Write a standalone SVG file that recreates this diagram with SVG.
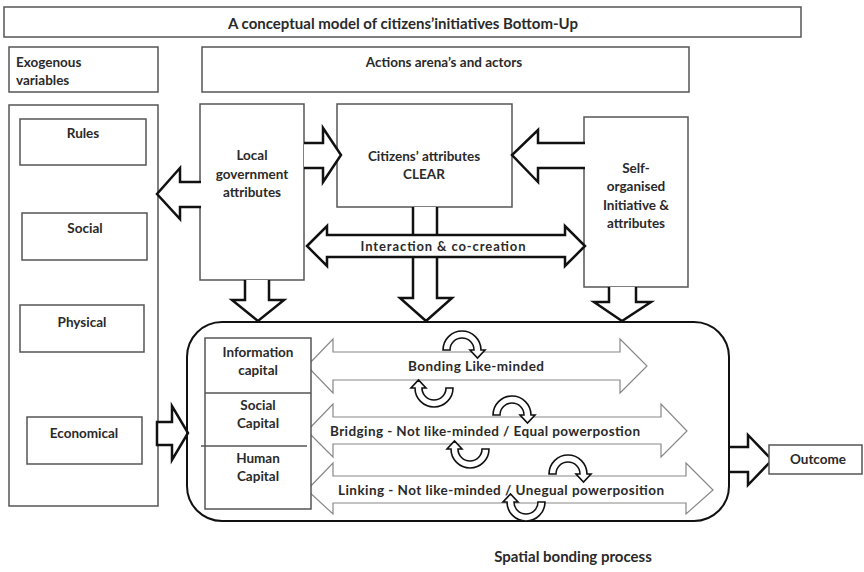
<svg xmlns="http://www.w3.org/2000/svg" xmlns:xlink="http://www.w3.org/1999/xlink" width="864" height="572" viewBox="0 0 864 572">
<defs>
<style>
.box{fill:#fff;stroke:#555;stroke-width:1.5}
.t{font-family:Lato,"Open Sans","Liberation Sans",sans-serif;font-weight:bold;fill:#2a2a2a;font-size:13.5px}
.c{text-anchor:middle}
.big{fill:#fff;stroke:#111;stroke-width:2.5;stroke-linejoin:miter}
.wide{fill:#fff;stroke:#888;stroke-width:1.2}
.ut{fill:#fff;stroke:#111;stroke-width:1.6;stroke-linejoin:miter}
</style>
<path id="uturn" d="M -19 0 A 19 19 0 0 1 19 0 L 23 0 L 15.5 8 L 8 0 L 12 0 A 12 12 0 0 0 -12 0 Z"/>
</defs>
<rect width="864" height="572" fill="#fff"/>

<g id="title">
<rect class="box" x="4" y="7" width="797" height="30"/>
<text class="t c" x="403" y="29" style="font-size:15px">A conceptual model of citizens’initiatives  Bottom-Up</text>
</g>
<g id="exogenous-header">
<rect class="box" x="9" y="47" width="149" height="45"/>
<text class="t" x="16" y="67">Exogenous</text>
<text class="t" x="16" y="85">variables</text>
</g>
<g id="actions-header">
<rect class="box" x="202" y="47" width="487" height="45"/>
<text class="t c" x="444" y="67">Actions arena’s and actors</text>
</g>

<g id="exogenous-variables">
<rect class="box" x="9" y="105" width="149" height="401"/>
</g>
<g id="rules"><rect class="box" x="20" y="119" width="126" height="46"/><text class="t c" x="83" y="138">Rules</text></g>
<g id="social"><rect class="box" x="22" y="213" width="125" height="47"/><text class="t c" x="85" y="233">Social</text></g>
<g id="physical"><rect class="box" x="20" y="305" width="124" height="47"/><text class="t c" x="82" y="327">Physical</text></g>
<g id="economical"><rect class="box" x="27" y="417" width="115" height="47"/><text class="t c" x="84" y="438">Economical</text></g>

<g id="local-government">
<rect class="box" x="200" y="104" width="104" height="176"/>
<text class="t c" x="252" y="160">Local</text>
<text class="t c" x="252" y="179">government</text>
<text class="t c" x="252" y="197">attributes</text>
</g>
<g id="citizens">
<rect class="box" x="337" y="104" width="175" height="103"/>
<text class="t c" x="424" y="161">Citizens’ attributes</text>
<text class="t c" x="424" y="179">CLEAR</text>
</g>
<g id="self-organised">
<rect class="box" x="584" y="117" width="104" height="170"/>
<text class="t c" x="636" y="173">Self-</text>
<text class="t c" x="636" y="191">organised</text>
<text class="t c" x="636" y="210">Initiative &amp;</text>
<text class="t c" x="636" y="228">attributes</text>
</g>

<g id="connectors">
<path class="big" d="M201 182 L180 182 L180 168 L157 194 L180 219 L180 207 L201 207"/>
<path class="big" d="M304 143 L323 143 L323 128 L341 155 L323 182 L323 168 L304 168"/>
<path class="big" d="M585 143 L538 143 L538 130 L512 155 L538 182 L538 168 L585 168"/>
<path class="big" d="M413 207 L413 298 L400 298 L426 321 L452 298 L437 298 L437 207"/>
<path class="big" d="M307 246 L327 226 L327 235 L565 235 L565 226 L585 246 L565 266 L565 257 L327 257 L327 266 Z"/>
<path class="big" d="M245 280 L245 300 L232 300 L258 321 L284 300 L269 300 L269 280"/>
<path class="big" d="M609 287 L609 302 L594 302 L622 321 L651 302 L636 302 L636 287"/>
<path class="big" d="M157 422 L172 422 L172 406 L188 433 L172 460 L172 445 L157 445 Z"/>
<path class="big" d="M729 447 L748 447 L748 435 L772 460 L748 485 L748 472 L729 472"/>
</g>
<text class="t c" x="443" y="251" style="font-size:13px" textLength="165">Interaction &amp;  co-creation</text>

<g id="spatial-bonding">
<rect x="187" y="322" width="542" height="199" rx="35" ry="35" fill="none" stroke="#111" stroke-width="2"/>
<g id="flows">
<path class="wide" d="M307 366 L333 339 L333 352 L620 352 L620 339 L647 366 L620 393 L620 380 L333 380 L333 393 Z"/>
<path class="wide" d="M307 431 L333 404 L333 417 L661 417 L661 404 L687 431 L661 457 L661 444 L333 444 L333 457 Z"/>
<path class="wide" d="M307 490 L333 463 L333 476 L686 476 L686 463 L713 490 L686 514 L686 503 L333 503 L333 514 Z"/>
</g>
<text class="t c" x="476" y="371" textLength="136">Bonding Like-minded</text>
<text class="t c" x="485" y="436" textLength="310">Bridging - Not like-minded / Equal powerpostion</text>
<text class="t c" x="501" y="495" textLength="326">Linking - Not like-minded / Unegual powerposition</text>
<g id="uturns">
<use href="#uturn" class="ut" transform="translate(462 350)"/>
<use href="#uturn" class="ut" transform="translate(434 388) rotate(180)"/>
<use href="#uturn" class="ut" transform="translate(512 415)"/>
<use href="#uturn" class="ut" transform="translate(470 449) rotate(180)"/>
<use href="#uturn" class="ut" transform="translate(568 474)"/>
<use href="#uturn" class="ut" transform="translate(526 502) rotate(180)"/>
</g>
<g id="capitals">
<rect class="box" x="205" y="338" width="106" height="171"/>
<line x1="205" y1="393" x2="311" y2="393" stroke="#555" stroke-width="1.5"/>
<line x1="201" y1="446" x2="307" y2="446" stroke="#555" stroke-width="1.5"/>
<text class="t c" x="258" y="357">Information</text>
<text class="t c" x="258" y="375">capital</text>
<text class="t c" x="258" y="410">Social</text>
<text class="t c" x="258" y="428">Capital</text>
<text class="t c" x="258" y="463">Human</text>
<text class="t c" x="258" y="481">Capital</text>
</g>
</g>

<g id="outcome">
<rect class="box" x="769" y="445" width="93" height="29"/>
<text class="t c" x="818" y="464">Outcome</text>
</g>
<text class="t c" x="573" y="562" style="font-size:15px">Spatial bonding process</text>
</svg>
